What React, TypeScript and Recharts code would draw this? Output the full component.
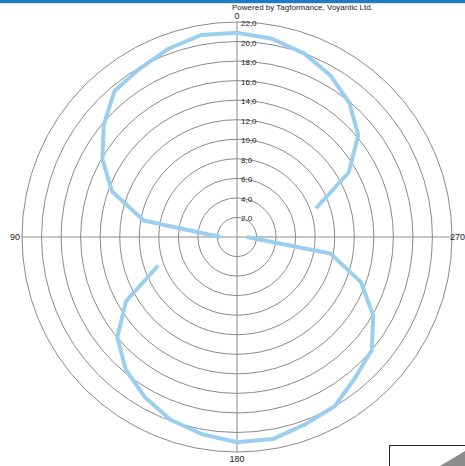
import React from "react";
import { RadarChart, Radar, PolarGrid, PolarAngleAxis, PolarRadiusAxis } from "recharts";

// measurement angles (deg), in drawing order; 100 is a gap between the two lobes
const angles = [
  290, 300, 310, 320, 330, 340, 350, 0, 10, 20, 30, 40, 50, 60, 70, 80, 90,
  100,
  110, 120, 130, 140, 150, 160, 170, 180, 190, 200, 210, 220, 230, 240, 250, 260, 270,
];
const radii: (number | null)[] = [
  8.6, 13.2, 16.2, 17.9, 19.1, 20.0, 20.6, 20.9, 21.0, 20.5, 19.9, 19.5, 17.8, 15.9, 13.6, 9.7, 1.7,
  null,
  8.6, 13.1, 16.0, 17.7, 18.9, 19.9, 20.5, 21.0, 21.0, 20.4, 20.0, 18.8, 18.0, 16.1, 13.5, 9.7, 1.0,
];
const angleTicks = [0, 90, 180, 270];
const radiusTicks = [2, 4, 6, 8, 10, 12, 14, 16, 18, 20, 22];

const data = angles.map((a, i) => ({ angle: a, r: radii[i] }));

const AngleTick = (props: any) => {
  const { x, y, payload, textAnchor } = props;
  const v = payload.value;
  let dy = 3;
  let dx = 0;
  if (v === 0) dy = -1;
  if (v === 180) dy = 8;
  if (v === 270) dx = -4;
  return (
    <text x={x + dx} y={y} dy={dy} textAnchor={textAnchor} fontSize={9} fill="#222" fontFamily="Liberation Sans, Arial, sans-serif">
      {v}
    </text>
  );
};

const RadiusTick = (props: any) => {
  const { x, y, payload } = props;
  return (
    <text x={x + 4} y={y} dy={4} textAnchor="start" fontSize={8} fill="#222" fontFamily="Liberation Sans, Arial, sans-serif">
      {Number(payload.value).toFixed(1).replace(".", ",")}
    </text>
  );
};

// open polyline through the radar points, broken where a value is missing
const OpenLine = (props: any) => {
  const { points, stroke, strokeWidth } = props;
  let d = "";
  let pen = false;
  (points || []).forEach((p: any) => {
    if (p.payload == null || p.payload.r == null || isNaN(p.x) || isNaN(p.y)) {
      pen = false;
      return;
    }
    d += `${pen ? "L" : "M"}${p.x},${p.y}`;
    pen = true;
  });
  return <path d={d} fill="none" stroke={stroke} strokeWidth={strokeWidth} strokeLinejoin="round" />;
};

const App = () => {
  return (
    <div style={{ position: "absolute", left: 0, top: 0, width: 465, height: 466, background: "#fff", overflow: "hidden" }}>
      <div style={{ position: "absolute", left: 0, top: 0, width: 465, height: 3, background: "#1f7cc0" }} />
      <div style={{ position: "absolute", left: 0, top: 3, width: 465, height: 1, background: "#cfe0ee" }} />
      <div
        style={{
          position: "absolute",
          left: 232,
          top: 3,
          fontSize: 8,
          fontFamily: "Liberation Sans, Arial, sans-serif",
          color: "#222",
          whiteSpace: "nowrap",
        }}
      >
        Powered by Tagformance, Voyantic Ltd.
      </div>
      <RadarChart width={465} height={466} data={data} cx={237} cy={237} outerRadius={215} startAngle={90} endAngle={450}>
        <PolarGrid gridType="circle" stroke="#8a8a8a" strokeWidth={1} />
        <PolarAngleAxis
          dataKey="angle"
          type="number"
          domain={[0, 360]}
          ticks={angleTicks}
          tick={<AngleTick />}
          tickLine={false}
          tickSize={2}
          axisLine={false}
        />
        <PolarRadiusAxis
          angle={90}
          domain={[0, 22]}
          ticks={radiusTicks}
          tick={<RadiusTick />}
          axisLine={false}
          tickLine={false}
        />
        <Radar
          dataKey="r"
          stroke="#9ccfef"
          strokeWidth={4}
          fill="none"
          fillOpacity={0}
          dot={false}
          shape={<OpenLine />}
          isAnimationActive={false}
        />
      </RadarChart>
      <div style={{ position: "absolute", left: 389, top: 445, width: 90, height: 40, border: "1px solid #222", background: "#fff" }} />
      <svg style={{ position: "absolute", left: 0, top: 0 }} width={465} height={466}>
        <polygon points="440,466 465,451 465,466" fill="#8c8c8c" />
      </svg>
    </div>
  );
};

export default App;
